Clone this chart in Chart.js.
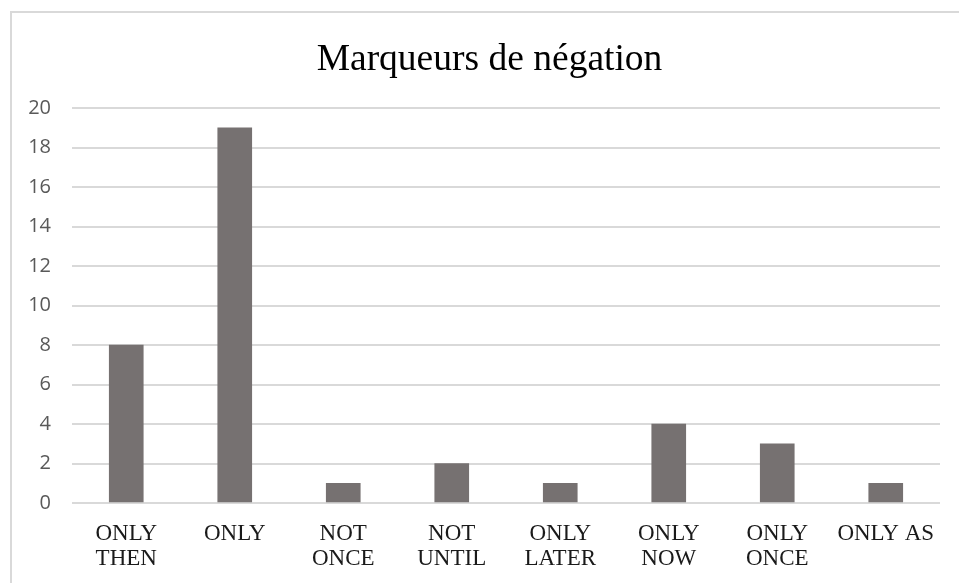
<!DOCTYPE html>
<html>
<head>
<meta charset="utf-8">
<script src="https://cdn.jsdelivr.net/npm/chart.js@4.4.1/dist/chart.umd.min.js"></script>
<style>
  html, body { margin: 0; padding: 0; background: #fff; overflow: hidden; width: 959px; height: 583px; }
  #frame { position: absolute; left: 10px; top: 11px; width: 980px; height: 600px; border: 2px solid #d9d9d9; box-sizing: border-box; }
  #wrap { position: absolute; left: 0; top: 0; width: 979px; height: 583px; }
</style>
</head>
<body>
<div id="frame"></div>
<div id="wrap"><canvas id="negChart" width="979" height="583"></canvas></div>
<script>
const categories = [
    ['ONLY', 'THEN'], 'ONLY', ['NOT', 'ONCE'], ['NOT', 'UNTIL'],
    ['ONLY', 'LATER'], ['ONLY', 'NOW'], ['ONLY', 'ONCE'], 'ONLY AS'
];
const counts = [8, 19, 1, 2, 1, 4, 3, 1];
const yMin = 0;
const yMax = 20;
const yStep = 2;

const ctx = document.getElementById('negChart').getContext('2d');
new Chart(ctx, {
    type: 'bar',
    data: {
        labels: categories,
        datasets: [{ label: 'Marqueurs', data: counts, backgroundColor: '#767171', barThickness: 34 }]
    },
    options: {
        responsive: false,
        animation: false,
        layout: { padding: 0 },
        plugins: {
            legend: { display: false },
            tooltip: { enabled: false },
            title: {
                display: true,
                text: 'Marqueurs de négation',
                color: '#000',
                font: { family: '"Liberation Serif", "Times New Roman", serif', size: 37.5, weight: 'normal', lineHeight: 1.2 },
                padding: { top: 38, bottom: 25 }
            }
        },
        scales: {
            x: {
                grid: { display: false, drawTicks: false },
                border: { display: false },
                ticks: {
                    color: '#1a1a1a',
                    padding: 18,
                    maxRotation: 0,
                    autoSkip: false,
                    font: { family: '"Liberation Serif", "Times New Roman", serif', size: 23, lineHeight: 1.09 }
                },
                afterFit: (scale) => { scale.height = 80; }
            },
            y: {
                min: yMin,
                max: yMax,
                grid: { color: '#d9d9d9', lineWidth: 2, drawTicks: false },
                border: { display: false },
                ticks: {
                    stepSize: yStep,
                    color: '#595959',
                    padding: 21,
                    font: { family: '"Open Sans", sans-serif', size: 20 }
                },
                afterFit: (scale) => { scale.width = 72; }
            },
            // empty right-hand spacer so the title sits centred on the frame
            spacer: {
                position: 'right',
                grid: { display: false, drawTicks: false },
                border: { display: false },
                ticks: { display: false },
                afterFit: (scale) => { scale.width = 39; }
            }
        }
    }
});
</script>
</body>
</html>
